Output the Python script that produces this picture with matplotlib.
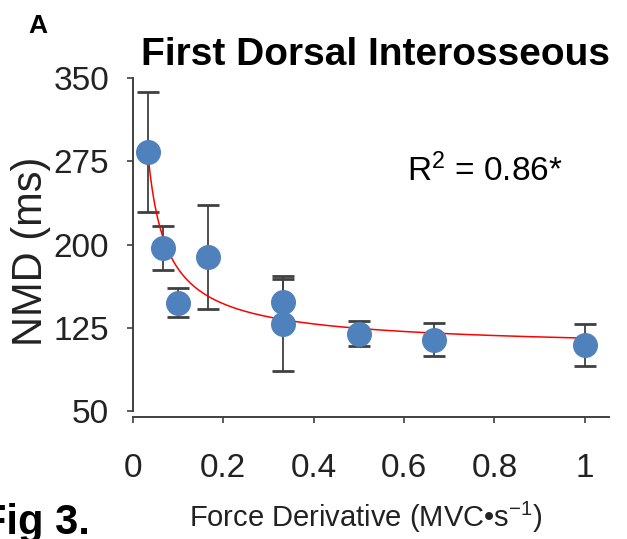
import numpy as np
from matplotlib import pyplot as plt

plt.rcParams['font.family'] = ['Liberation Sans', 'DejaVu Sans']
plt.rcParams['mathtext.fontset'] = 'custom'
plt.rcParams['mathtext.rm'] = 'Liberation Sans'
plt.rcParams['mathtext.it'] = 'Liberation Sans'

# force derivative (MVC/s) and neuromechanical delay (ms)
force_deriv = [1/30, 1/15, 0.1, 1/6, 1/3, 1/3, 0.5, 2/3, 1.0]
nmd = [283, 197, 148, 189, 148.5, 129, 120, 114.5, 110]
nmd_err = [54, 20, 13, 47, 20.5, 43, 11, 15, 19]

# fitted curve y = a + b * x**p
fit_a, fit_b, fit_p = 104.2, 11.8, -0.8
r2_text = 'R$^2$ = 0.86*'

grey = '#404040'
fig = plt.figure(figsize=(6.27, 5.39), dpi=100)
ax = fig.add_axes([0.2116, 0.2263, 0.971 - 0.2116, 0.8553 - 0.2263])

xf = np.linspace(force_deriv[0], 0.985, 300)
ax.plot(xf, fit_a + fit_b * xf ** fit_p, color='#ff0000', lw=1.1, zorder=2)
ax.errorbar(force_deriv, nmd, yerr=nmd_err, fmt='none', ecolor=grey,
            elinewidth=1.3, capsize=8, capthick=2, zorder=1)
ax.plot(force_deriv, nmd, 'o', color='#4f81bd', ms=17, mec='#4f81bd', zorder=3)

ax.set_xlim(0, 1.053)
ax.set_ylim(45, 350)
ax.set_xticks([0, 0.2, 0.4, 0.6, 0.8, 1])
ax.set_xticklabels(['0', '0.2', '0.4', '0.6', '0.8', '1'])
ax.set_yticks([50, 125, 200, 275, 350])
ax.spines['top'].set_visible(False)
ax.spines['right'].set_visible(False)
for s in ('left', 'bottom'):
    ax.spines[s].set_color(grey)
    ax.spines[s].set_linewidth(1.4)
ax.spines['left'].set_bounds(50, 350)
ax.tick_params(axis='both', direction='out', length=4, width=1.2,
               color=grey, labelsize=24, labelcolor='#222222')
ax.tick_params(axis='y', pad=13)
ax.tick_params(axis='x', pad=22)

ax.set_ylabel('NMD (ms)', fontsize=30, color='#222222')
ax.yaxis.set_label_coords(-0.172, 0.49)

fig.text(366 / 627, 1 - 517 / 539, 'Force Derivative (MVC•s$^{-1}$)',
         fontsize=21, color='#222222', ha='center', va='center')
fig.text(376 / 627, 1 - 55 / 539, 'First Dorsal Interosseous',
         fontsize=28, fontweight='bold', ha='center', va='center')
fig.text(38 / 627, 1 - 26 / 539, 'A', fontsize=19, fontweight='bold',
         ha='center', va='center')
fig.text(-0.03, 1 - 503 / 539, 'Fig 3.', fontsize=30, fontweight='bold',
         ha='left', va='top')
ax.text(407, 539 - 181, r2_text, transform=None, fontsize=24)

fig.savefig('out.png', dpi=100)
